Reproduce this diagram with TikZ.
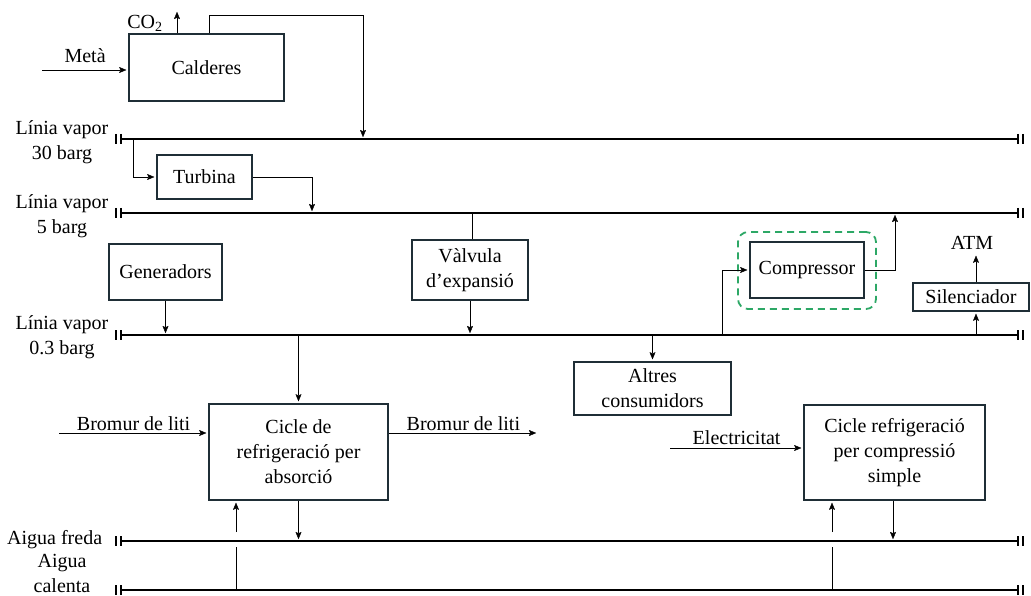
\documentclass[tikz,border=0pt]{standalone}
\usepackage{fontspec}
\setmainfont{Liberation Serif}
\usetikzlibrary{arrows.meta}
\usetikzlibrary{positioning}
\definecolor{boxline}{HTML}{1F2E36}
\definecolor{zonegreen}{HTML}{2DA866}

\begin{document}
\begin{tikzpicture}[x=1pt,y=-1pt]
      \tikzset{
        ->,
        >={Stealth[length=10pt,width=8pt,inset=1.5pt]},
        line width=1.7pt,
        every node/.style={font=\fontsize{20}{25}\selectfont, align=center},
        block/.style={draw=boxline, line width=1.6pt, inner sep=0pt},
        pipe/.style={-, line width=2.4pt},
        pipeend/.style={-, line width=1.6pt},
      }
      \useasboundingbox (0,0) rectangle (1031,596);

      % steam and water lines
      \coordinate (v30w) at (121,139); \coordinate (v30e) at (1018,139);
      \coordinate (v5w) at (121,213);  \coordinate (v5e) at (1018,213);
      \coordinate (v03w) at (121,335); \coordinate (v03e) at (1018,335);
      \coordinate (frew) at (121,541); \coordinate (free) at (1018,541);
      \coordinate (calw) at (121,590); \coordinate (cale) at (1018,590);
      \draw[pipe] (v30w) -- (v30e);
      \draw[pipe] (v5w) -- (v5e);
      \draw[pipe] (v03w) -- (v03e);
      \draw[pipe] (frew) -- (free);
      \draw[pipe] (calw) -- (cale);
      \foreach \y in {139,213,335,541,590} {
        \draw[pipeend] (116,\y-5) -- (116,\y+5) (121,\y-5) -- (121,\y+5);
        \draw[pipeend] (1018,\y-5) -- (1018,\y+5) (1023,\y-5) -- (1023,\y+5);
      }

      \node (l30) at (62,142) {Línia vapor\\30 barg};
      \node (l5) at (62,216) {Línia vapor\\5 barg};
      \node (l03) at (62,337) {Línia vapor\\0.3 barg};
      \node[anchor=east, inner sep=0pt] (lfre) at (103,540) {Aigua freda};
      \node (lcal) at (62,573) {Aigua\\calenta};

      % blocks
      \node[block, minimum width=155pt, minimum height=67pt] (cald) at (206.5,67.5) {Calderes};
      \node[block, minimum width=95pt, minimum height=44pt] (turb) at (204.5,177) {Turbina};
      \node[block, minimum width=113pt, minimum height=56pt] (gen) at (165.5,272) {Generadors};
      \node[block, minimum width=116pt, minimum height=60pt] (valv) at (470,270) {Vàlvula\\d’expansió};
      \node[block, minimum width=114pt, minimum height=56pt] (comp) at (807,270) {Compressor};
      \node[draw=zonegreen, dash pattern=on 7pt off 5pt, line width=1.8pt, rounded corners=10pt,
        minimum width=138pt, minimum height=77pt] (zone) at (807,270.5) {};
      \node[block, minimum width=116pt, minimum height=28pt] (sil) at (971,297) {Silenciador};
      \node[block, minimum width=157pt, minimum height=53pt] (alt) at (652.5,388.5) {Altres\\consumidors};
      \node[block, minimum width=179pt, minimum height=96pt] (abs) at (298.5,452) {Cicle de\\refrigeració per\\absorció};
      \node[block, minimum width=181pt, minimum height=95pt] (simp) at (894.5,452.5) {Cicle refrigeració\\per compressió\\simple};

      % free ends and junctions
      \coordinate (meta) at (42,70);
      \coordinate (co2) at (177,10);
      \coordinate (c1) at (209,15);
      \coordinate (j1) at (363,139);
      \coordinate (j2) at (133,139);
      \coordinate (j3) at (312,213);
      \coordinate (j4) at (472,213);
      \coordinate (j5) at (722,335);
      \coordinate (j6) at (895,213);
      \coordinate (j7) at (976,335);
      \coordinate (br1) at (59,433);
      \coordinate (br2) at (538,433);
      \coordinate (el) at (670,448);
      \coordinate (k1) at (236,590);
      \coordinate (k2) at (832,590);

      \node (co2l) at (145,23) {CO\textsubscript{2}};
      \node (atm) at (972,243) {ATM};

      \draw (meta) -- node[above, inner sep=6pt] {Metà} (meta -| cald.west);
      \draw (co2 |- cald.north) -- (co2);
      \draw (c1 |- cald.north) -- (c1) -| (j1);
      \draw (j2) |- (turb.west);
      \draw (turb.east) -| (j3);
      \draw[-] (j4) -- (j4 |- valv.north);
      \draw (valv.south) -- (valv.south |- v03w);
      \draw (gen.south) -- (gen.south |- v03w);
      \draw (abs.north |- v03w) -- (abs.north);
      \draw (alt.north |- v03w) -- (alt.north);
      \draw (j5) |- (comp.west);
      \draw (comp.east) -| (j6);
      \draw (j7) -- (j7 |- sil.south);
      \draw (j7 |- sil.north) -- (j7 |- atm.south);
      \draw (br1) -- node[above, inner sep=1pt] {Bromur de liti} (br1 -| abs.west);
      \draw (br1 -| abs.east) -- node[above, inner sep=1pt] {Bromur de liti} (br2);
      \draw (abs.south) -- (abs.south |- frew);
      \draw (k1) -- +(0,-43) (k1) ++(0,-58) -- (k1 |- abs.south);
      \draw (el) -- node[above, inner sep=2pt] {Electricitat} (el -| simp.west);
      \draw (k2) -- +(0,-43) (k2) ++(0,-58) -- (k2 |- simp.south);
      \draw ([xshift=-1.5pt]simp.south) -- ([xshift=-1.5pt]simp.south |- frew);
    \end{tikzpicture}
\end{document}
